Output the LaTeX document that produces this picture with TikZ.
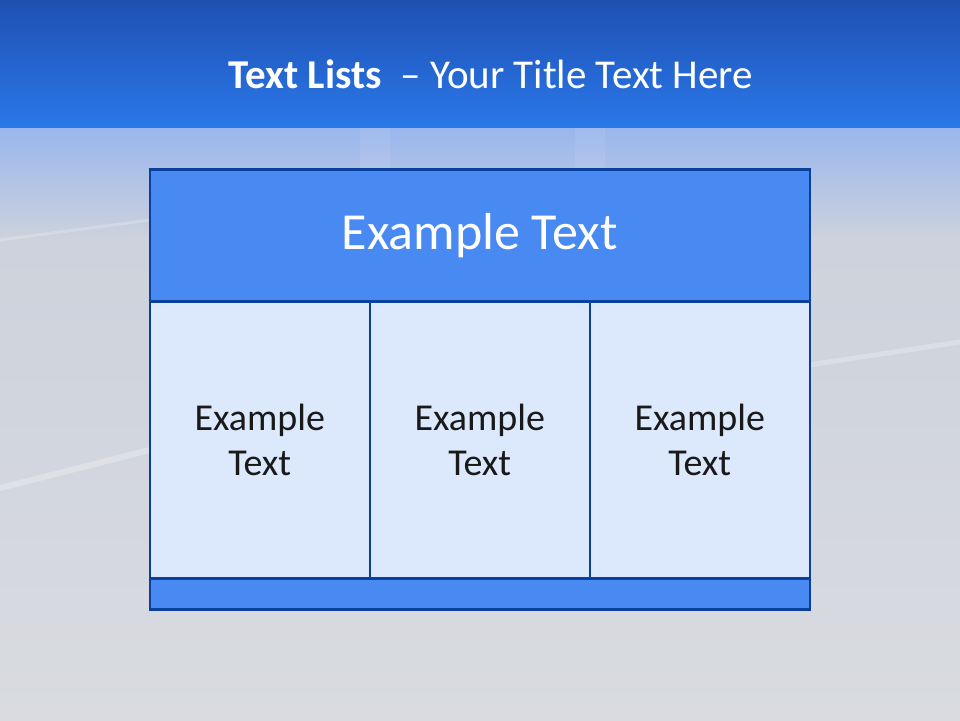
\documentclass[tikz,border=0pt]{standalone}
\usepackage{fontspec}
\setmainfont{Carlito}
\usetikzlibrary{positioning}
\definecolor{bandtop}{HTML}{1F50B2}
\definecolor{bandbot}{HTML}{2A78EA}
\definecolor{skyblue}{HTML}{9AB6EE}
\definecolor{greyA}{HTML}{CDD2DC}
\definecolor{greyB}{HTML}{D9DBE0}
\definecolor{frame}{HTML}{0B3F9C}
\definecolor{headfill}{HTML}{4889F2}
\definecolor{cellfill}{HTML}{DCE8FC}
\tikzset{
  box/.style={draw=frame, line width=2.6pt, rectangle, inner sep=0pt, anchor=north west},
  headbox/.style={box, fill=headfill, minimum width=660pt, minimum height=132pt,
     font=\fontsize{52}{60}\selectfont, text=white},
  cellbox/.style={box, fill=cellfill, minimum width=220pt, minimum height=277pt, align=center,
     font=\fontsize{38}{45}\selectfont, text=black!90},
  footbox/.style={box, fill=headfill, minimum width=660pt, minimum height=31pt},
  streak/.style={line cap=round, white}
}
\begin{document}
\begin{tikzpicture}[x=1pt,y=1pt]
\useasboundingbox (0,0) rectangle (960,720);
% background
\fill[greyB] (0,0) rectangle (960,720);
\shade[top color=greyA, bottom color=greyB] (0,0) rectangle (960,480);
\shade[top color=skyblue, bottom color=greyA] (0,480) rectangle (960,592);
\fill[white, opacity=0.07] (575,592) rectangle (605,520);
\fill[white, opacity=0.07] (360,592) rectangle (390,520);
\draw[streak, line width=6pt, opacity=0.25] (0,232) -- (150,270);
\draw[streak, line width=5pt, opacity=0.25] (809,355) -- (960,378);
\draw[streak, line width=3pt, opacity=0.2] (0,480) -- (150,500);
\shade[top color=bandtop, bottom color=bandbot] (0,592) rectangle (960,720);
% title
\node[text=white, font=\fontsize{41}{50}\selectfont] (title) at (491,646) {\textbf{Text Lists}\ \ – Your Title Text Here};
% table
\node[headbox] (head) at (148.5,552) {Example Text};
\node[cellbox] (c1) at (148.5,420) {Example\\Text};
\node[cellbox] (c2) at (368.5,420) {Example\\Text};
\node[cellbox] (c3) at (588.5,420) {Example\\Text};
\node[footbox] (foot) at (148.5,143) {};
\end{tikzpicture}
\end{document}
